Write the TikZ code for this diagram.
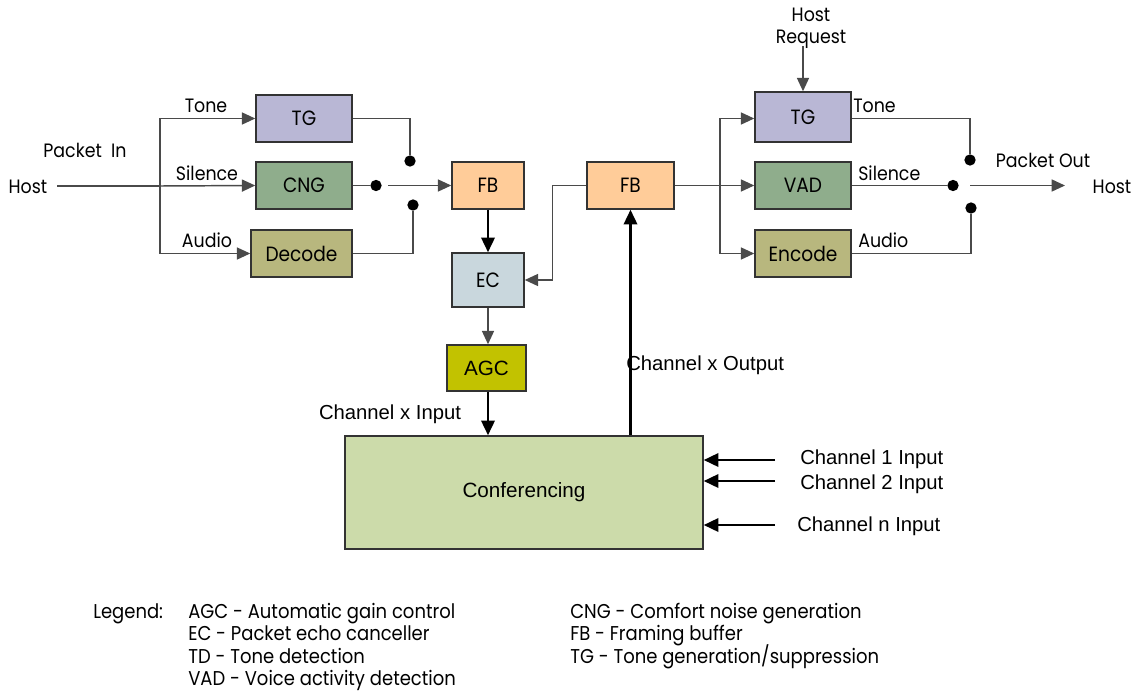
\documentclass[tikz,border=0pt]{standalone}
\usepackage{fontspec}
\setmainfont{Poppins}[FakeStretch=0.9]
\newfontfamily\labelsans{Liberation Sans}
\usetikzlibrary{arrows.meta,calc}

\definecolor{tgfill}{HTML}{B9B7D5}
\definecolor{cngfill}{HTML}{8FAD8C}
\definecolor{codefill}{HTML}{B8B77E}
\definecolor{fbfill}{HTML}{FFCC99}
\definecolor{ecfill}{HTML}{C9D7DD}
\definecolor{agcfill}{HTML}{C2C200}
\definecolor{conffill}{HTML}{CCDBAA}
\definecolor{wire}{HTML}{4A4A4A}

\tikzset{
  blk/.style={draw=black!80, line width=1.1pt, inner sep=0pt, font=\fontsize{15.5}{17}\selectfont},
  wirel/.style={draw=wire, line width=1.1pt},
  arr/.style={wirel, -{Triangle[length=10pt,width=9pt]}},
  arrthick/.style={draw=black, line width=1.8pt, -{Triangle[length=11pt,width=10pt]}},
  dot/.style={circle, fill=black, inner sep=0pt, minimum size=8.5pt},
  lbl/.style={font=\fontsize{14.5}{16}\selectfont, inner sep=0pt, text height=1.6ex, text depth=0.35ex, yshift=-2pt},
  leg/.style={font=\fontsize{15}{16}\selectfont, inner sep=0pt, text height=1.6ex, text depth=0.35ex, anchor=west},
  chl/.style={font=\labelsans\fontsize{15.2}{17}\selectfont, inner sep=0pt},
}

\begin{document}
\begin{tikzpicture}[x=0.75pt, y=-0.75pt]
\useasboundingbox (0,0) rectangle (1137,692);

% ---- receive path (packet in) ----
\node[blk, fill=tgfill,   minimum width=72pt,    minimum height=35.25pt] (tgA)  at (304,118.5) {TG};
\node[blk, fill=cngfill,  minimum width=72pt,    minimum height=35.25pt] (cng)  at (304,185.5) {CNG};
\node[blk, fill=codefill, minimum width=75.75pt, minimum height=35.25pt] (dec)  at (301.5,253.5) {Decode};
\node[blk, fill=fbfill,   minimum width=54pt,    minimum height=35.25pt] (fbA)  at (488,185.5) {FB};
\node[blk, fill=ecfill,   minimum width=54pt,    minimum height=40.5pt]  (ec)   at (488,280) {EC};
\node[blk, fill=agcfill,  minimum width=59.25pt, minimum height=34.5pt, font=\labelsans\fontsize{15.5}{17}\selectfont] (agc) at (486.5,368) {AGC};
\node[blk, fill=conffill, minimum width=268.5pt, minimum height=84.75pt, font=\labelsans\fontsize{15.5}{17}\selectfont] (conf) at (524,492.5) {Conferencing};

% ---- transmit path (packet out) ----
\node[blk, fill=fbfill,   minimum width=65.25pt, minimum height=35.25pt] (fbB)  at (630.5,185.5) {FB};
\node[blk, fill=tgfill,   minimum width=72pt,    minimum height=37.5pt]  (tgB)  at (803,117) {TG};
\node[blk, fill=cngfill,  minimum width=72pt,    minimum height=35.25pt] (vad)  at (803,185.5) {VAD};
\node[blk, fill=codefill, minimum width=72pt,    minimum height=35.25pt] (enc)  at (803,253.5) {Encode};

% ---- text labels ----
\node[lbl] (hostL) at (28,186) {Host};
\node[lbl] at (85,150) {Packet\ \ In};
\node[lbl] at (206,105) {Tone};
\node[lbl] at (207,173) {Silence};
\node[lbl] at (207,240) {Audio};
\node[lbl] (hreqA) at (811,14) {Host};
\node[lbl] (hreq)  at (811,36) {Request};
\node[lbl, anchor=west] at (853,105) {Tone};
\node[lbl, anchor=west] at (858,173) {Silence};
\node[lbl, anchor=west] at (858,240) {Audio};
\node[lbl] at (1043,160) {Packet Out};
\node[lbl] (hostR) at (1112,186) {Host};
\node[chl] at (390,414) {Channel x Input};
\node[chl, anchor=west] at (626,365) {Channel x Output};
\node[chl, anchor=west] (ch1) at (800,459) {Channel 1 Input};
\node[chl, anchor=west] (ch2) at (800,484) {Channel 2 Input};
\node[chl, anchor=west] (chn) at (797,526) {Channel n Input};

% ---- receive-side wiring ----
\coordinate (inL)    at (57,186);
\coordinate (splitL) at (160,186);
\draw[wirel] (inL) -- (splitL);
\draw[arr] (splitL) |- (tgA.west);
\draw[arr] (splitL) -- (cng.west);
\draw[arr] (splitL) |- (dec.west);

\node[dot] (swA1) at (410,161) {};
\node[dot] (swA2) at (376,185.5) {};
\node[dot] (swA3) at (413,205) {};
\draw[wirel] (tgA.east) -| (swA1);
\draw[wirel] (cng.east) -- (swA2);
\draw[wirel] (dec.east) -| (swA3);
\coordinate (swAout) at (388,185.5);
\draw[arr] (swAout) -- (fbA.west);

\draw[arrthick] (fbA.south) -- (ec.north);
\draw[arr] (ec.south) -- (ec.south |- agc.north);
\draw[arrthick] (agc.south -| ec.south) -- (ec.south |- conf.north);

% ---- conference output back to the transmit side ----
\draw[arrthick] (conf.north -| fbB.south) -- (fbB.south);
\draw[arr] (fbB.west) -- ++(-34,0) |- (ec.east);

% ---- transmit-side wiring ----
\coordinate (splitR) at (720,185.5);
\draw[wirel] (fbB.east) -- (splitR);
\draw[arr] (splitR) |- ($(tgB.west)+(0,1.5)$);
\draw[arr] (splitR) -- (vad.west);
\draw[arr] (splitR) |- (enc.west);
\draw[arr] (hreq.south -| tgB.north) -- (tgB.north);

\node[dot] (swB1) at (970,160) {};
\node[dot] (swB2) at (953,185.5) {};
\node[dot] (swB3) at (971,208) {};
\draw[wirel] ($(tgB.east)+(0,1.5)$) -| (swB1);
\draw[wirel] (vad.east) -- (swB2);
\draw[wirel] (enc.east) -| (swB3);
\coordinate (swBout) at (970,185.5);
\coordinate (outR)   at (1065,185.5);
\draw[arr] (swBout) -- (outR);

% ---- other channels into the conference ----
\coordinate (in1) at (775,460);
\coordinate (in2) at (775,481);
\coordinate (inn) at (775,525);
\draw[arrthick] (in1) -- (in1 -| conf.east);
\draw[arrthick] (in2) -- (in2 -| conf.east);
\draw[arrthick] (inn) -- (inn -| conf.east);

% ---- legend ----
\node[leg] at (93,614) {Legend:};
\node[leg] at (188,614) {AGC - Automatic gain control};
\node[leg] at (188,636) {EC - Packet echo canceller};
\node[leg] at (188,659) {TD - Tone detection};
\node[leg] at (188,681) {VAD - Voice activity detection};
\node[leg] at (570,614) {CNG - Comfort noise generation};
\node[leg] at (570,636) {FB - Framing buffer};
\node[leg] at (570,659) {TG - Tone generation/suppression};
\end{tikzpicture}
\end{document}
